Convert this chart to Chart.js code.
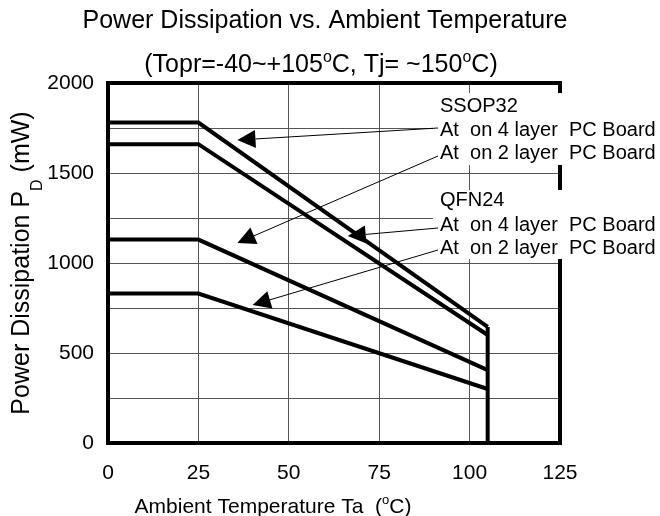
<!DOCTYPE html>
<html>
<head>
<meta charset="utf-8">
<script src="https://cdn.jsdelivr.net/npm/chart.js@4.4.0/dist/chart.umd.min.js"></script>
<style>
  html, body { margin: 0; padding: 0; background: #fff; }
  #wrap { width: 660px; height: 516px; }
</style>
</head>
<body>
<div id="wrap"><canvas id="pdChart" width="660" height="516"></canvas></div>
<script>
// ambient temperature (deg C) at the break points
var temps = [0, 25, 105];
// power dissipation (mW)
var ssop4 = [1780, 1780, 645];
var ssop2 = [1660, 1660, 600];
var qfn4 = [1130, 1130, 405];
var qfn2 = [830, 830, 300];
// cut-off at Topr max
var cutX = [105, 105];
var cutY = [645, 0];

var xTicks = [0, 25, 50, 75, 100, 125];
var yTicks = [0, 500, 1000, 1500, 2000];

// annotation rows: text and arrow tip (data coords), null = no arrow
var noteRows = [
  { text: "SSOP32", tip: null },
  { text: "At  on 4 layer  PC Board", tip: { x: 35.8, y: 1683 } },
  { text: "At  on 2 layer  PC Board", tip: { x: 35.8, y: 1111 } },
  { text: "QFN24", tip: null },
  { text: "At  on 4 layer  PC Board", tip: { x: 66.3, y: 1150 } },
  { text: "At  on 2 layer  PC Board", tip: { x: 40, y: 767 } }
];
var noteBase = [112, 136, 159, 206, 231, 254];
var arrowLift = [0, 8, 3, 0, 3, 4];

var FONT = "'Liberation Sans', Arial, sans-serif";

function pts(xs, ys) {
  return xs.map(function (x, i) { return { x: x, y: ys[i] }; });
}

function line(xs, ys) {
  return {
    data: pts(xs, ys),
    borderColor: "#000",
    borderWidth: 4,
    pointRadius: 0,
    fill: false,
    tension: 0,
    borderJoinStyle: "miter"
  };
}

// parts: [text, 'sup' | 'sub' | ''] ; size = main font px
function richDraw(ctx, parts, x, y, size, align) {
  var small = Math.round(size * 0.62);
  var w = 0;
  parts.forEach(function (p) {
    ctx.font = (p[1] ? small : size) + "px " + FONT;
    w += ctx.measureText(p[0]).width;
  });
  var cx = align === "center" ? x - w / 2 : x;
  ctx.textAlign = "left";
  ctx.textBaseline = "alphabetic";
  parts.forEach(function (p) {
    var s = p[1] ? small : size;
    var dy = 0;
    if (p[1] === "sup") dy = -size * 0.42;
    if (p[1] === "sub") dy = size * 0.5;
    ctx.font = s + "px " + FONT;
    ctx.fillText(p[0], cx, y + dy);
    cx += ctx.measureText(p[0]).width;
  });
}

var textPlugin = {
  id: "textPlugin",
  beforeDatasetsDraw: function (chart) {
    var ctx = chart.ctx, a = chart.chartArea;
    ctx.save();
    ctx.strokeStyle = "#000";
    ctx.lineWidth = 4;
    ctx.strokeRect(a.left, a.top, a.right - a.left, a.bottom - a.top);
    ctx.restore();
  },
  afterDatasetsDraw: function (chart) {
    var ctx = chart.ctx;
    var xs = chart.scales.x, ys = chart.scales.y;
    ctx.save();
    // white boxes behind the notes
    ctx.fillStyle = "#fff";
    ctx.fillRect(433, 93, 227, 72);
    ctx.fillRect(433, 190, 227, 69);

    ctx.fillStyle = "#000";
    ctx.font = "20px " + FONT;
    ctx.textAlign = "left";
    ctx.textBaseline = "alphabetic";
    noteRows.forEach(function (r, i) {
      ctx.fillText(r.text, 440, noteBase[i]);
      if (!r.tip) return;
      var sx = 438, sy = noteBase[i] - arrowLift[i];
      var tx = xs.getPixelForValue(r.tip.x), ty = ys.getPixelForValue(r.tip.y);
      var ang = Math.atan2(ty - sy, tx - sx);
      var L = 18, H = 9;
      var bx = tx - Math.cos(ang) * L, by = ty - Math.sin(ang) * L;
      ctx.strokeStyle = "#000";
      ctx.lineWidth = 1;
      ctx.beginPath();
      ctx.moveTo(sx, sy);
      ctx.lineTo(bx, by);
      ctx.stroke();
      ctx.beginPath();
      ctx.moveTo(tx, ty);
      ctx.lineTo(bx - Math.sin(ang) * H, by + Math.cos(ang) * H);
      ctx.lineTo(bx + Math.sin(ang) * H, by - Math.cos(ang) * H);
      ctx.closePath();
      ctx.fill();
    });
    ctx.restore();
  },
  afterDraw: function (chart) {
    var ctx = chart.ctx;
    ctx.save();
    ctx.fillStyle = "#000";
    // chart title
    richDraw(ctx, [["Power Dissipation vs. Ambient Temperature", ""]], 325, 28, 25, "center");
    richDraw(ctx, [["(Topr=-40~+105", ""], ["o", "sup"], ["C, Tj= ~150", ""], ["o", "sup"], ["C)", ""]], 321, 72, 25, "center");
    // x axis title
    richDraw(ctx, [["Ambient Temperature Ta  (", ""], ["o", "sup"], ["C)", ""]], 273, 513, 21, "center");
    // y axis title
    ctx.translate(29, 263);
    ctx.rotate(-Math.PI / 2);
    richDraw(ctx, [["Power Dissipation P", ""], ["D", "sub"], [" (mW)", ""]], 0, 0, 25, "center");
    ctx.restore();
  }
};

var ctx = document.getElementById("pdChart").getContext("2d");
var myChart = new Chart(ctx, {
  type: "line",
  data: {
    datasets: [
      line(temps, ssop4),
      line(temps, ssop2),
      line(temps, qfn4),
      line(temps, qfn2),
      line(cutX, cutY)
    ]
  },
  options: {
    responsive: false,
    animation: false,
    layout: { padding: { left: 0, top: 83, right: 100, bottom: 0 } },
    plugins: {
      legend: { display: false },
      tooltip: { enabled: false },
      title: { display: false }
    },
    scales: {
      x: {
        type: "linear",
        min: 0,
        max: 125,
        afterBuildTicks: function (s) { s.ticks = xTicks.map(function (v) { return { value: v }; }); },
        ticks: { color: "#000", padding: 18, font: { family: FONT, size: 21 } },
        grid: { color: "#555", lineWidth: 1, drawTicks: false },
        border: { display: false },
        afterFit: function (s) { s.height = 73; }
      },
      y: {
        min: 0,
        max: 2000,
        ticks: {
          stepSize: 250,
          color: "#000",
          padding: 14,
          font: { family: FONT, size: 21 },
          callback: function (v) { return yTicks.indexOf(v) >= 0 ? v : ""; }
        },
        grid: { color: "#555", lineWidth: 1, drawTicks: false },
        border: { display: false },
        afterFit: function (s) { s.width = 108; }
      }
    }
  },
  plugins: [textPlugin]
});
</script>
</body>
</html>
